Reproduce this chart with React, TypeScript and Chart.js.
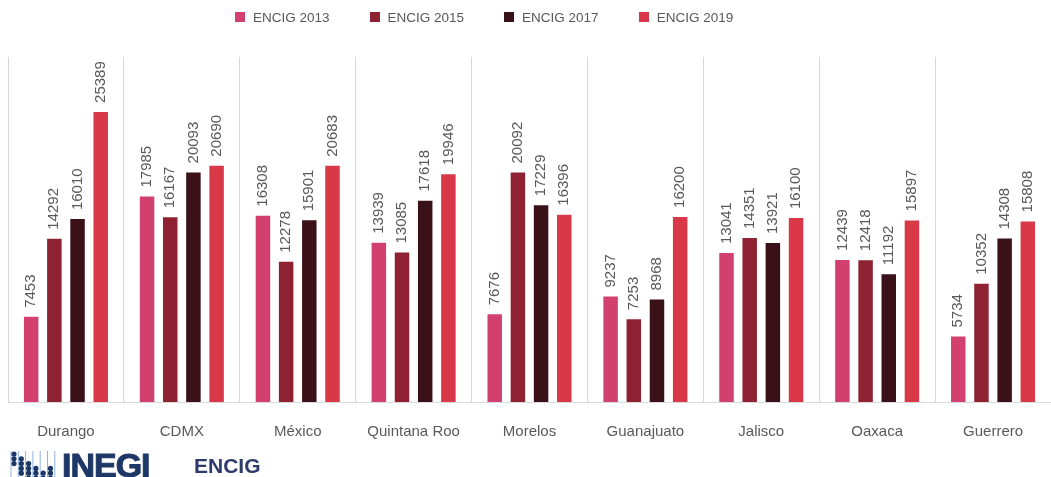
import React, { useEffect, useRef } from "react";
import { Chart, registerables } from "chart.js";

Chart.register(...registerables);

const categories = ["Durango", "CDMX", "México", "Quintana Roo", "Morelos", "Guanajuato", "Jalisco", "Oaxaca", "Guerrero"];
const seriesNames = ["ENCIG 2013", "ENCIG 2015", "ENCIG 2017", "ENCIG 2019"];
const values2013 = [7453, 17985, 16308, 13939, 7676, 9237, 13041, 12439, 5734];
const values2015 = [14292, 16167, 12278, 13085, 20092, 7253, 14351, 12418, 10352];
const values2017 = [16010, 20093, 15901, 17618, 17229, 8968, 13921, 11192, 14308];
const values2019 = [25389, 20690, 20683, 19946, 16396, 16200, 16100, 15897, 15808];
const seriesColors = ["#D1406E", "#8E2232", "#3A1119", "#D93848"];

const FONT = "'Liberation Sans', Arial, sans-serif";

const labelPlugin = {
  id: "barValueLabels",
  afterDatasetsDraw(chart: any) {
    const ctx = chart.ctx;
    ctx.save();
    ctx.fillStyle = "#595959";
    ctx.font = `15px ${FONT}`;
    ctx.textAlign = "left";
    ctx.textBaseline = "middle";
    chart.data.datasets.forEach((ds: any, di: number) => {
      const meta = chart.getDatasetMeta(di);
      meta.data.forEach((bar: any, i: number) => {
        ctx.save();
        ctx.translate(bar.x, bar.y - 9);
        ctx.rotate(-Math.PI / 2);
        ctx.fillText(String(ds.data[i]), 0, 0);
        ctx.restore();
      });
    });
    ctx.restore();
  },
};

function Logo() {
  const cols = [
    [0, 1, 2],
    [1, 2, 3, 4],
    [2, 3, 4, 5],
    [3, 4, 5],
    [4, 5],
    [3, 4, 5],
  ];
  return (
    <svg width="60" height="30" style={{ position: "absolute", left: 8, top: 449 }}>
      {[0, 1, 2, 3, 4, 5, 6].map((c) => (
        <line key={"l" + c} x1={3 + c * 7.3} x2={3 + c * 7.3} y1={2} y2={30} stroke="#8FB4E0" strokeWidth={1} />
      ))}
      {cols.map((rows, c) =>
        rows.map((r) => <circle key={c + "-" + r} cx={6 + c * 7.3} cy={5 + r * 4.8} r={2.6} fill="#1D3766" />)
      )}
    </svg>
  );
}

export default function App() {
  const ref = useRef<HTMLCanvasElement>(null);
  useEffect(() => {
    if (!ref.current) return;
    const chart = new Chart(ref.current, {
      type: "bar",
      data: {
        labels: categories,
        datasets: [values2013, values2015, values2017, values2019].map((d, i) => ({
          label: seriesNames[i],
          data: d,
          backgroundColor: seriesColors[i],
          borderWidth: 0,
          categoryPercentage: 0.8,
          barPercentage: 0.625,
        })),
      },
      options: {
        responsive: false,
        animation: false,
        layout: { padding: { left: 8, right: 0, top: 57, bottom: 9 } },
        plugins: { legend: { display: false }, tooltip: { enabled: false } },
        scales: {
          x: {
            grid: { display: true, color: "#DDD3D3", drawTicks: false, offset: true },
            border: { display: true, color: "#D9D9D9" },
            ticks: { color: "#595959", font: { size: 15, family: FONT }, padding: 21, maxRotation: 0 },
          },
          y: { display: false, min: 0, max: 30200 },
        },
      },
      plugins: [labelPlugin],
    });
    return () => chart.destroy();
  }, []);

  return (
    <div style={{ position: "absolute", left: 0, top: 0, width: 1051, height: 477, overflow: "hidden", background: "#fff" }}>
      <canvas ref={ref} width={1051} height={471} style={{ position: "absolute", left: 0, top: 0 }} />
      <div style={{ position: "absolute", left: 235, top: 8, display: "flex", gap: 40, fontFamily: FONT, fontSize: 13.5, color: "#595959" }}>
        {seriesNames.map((n, i) => (
          <div key={n} style={{ display: "flex", alignItems: "center", height: 18 }}>
            <span style={{ display: "inline-block", width: 10, height: 10, background: seriesColors[i], marginRight: 8 }} />
            <span>{n}</span>
          </div>
        ))}
      </div>
      <Logo />
      <div style={{ position: "absolute", left: 62, top: 445, fontFamily: FONT, fontWeight: 900, fontSize: 34, color: "#1D3766", letterSpacing: -1, lineHeight: "40px", WebkitTextStroke: "1px #1D3766" }}>INEGI</div>
      <div style={{ position: "absolute", left: 194, top: 453, fontFamily: FONT, fontWeight: 700, fontSize: 21, color: "#2E3A6B", lineHeight: "26px" }}>ENCIG</div>
    </div>
  );
}
